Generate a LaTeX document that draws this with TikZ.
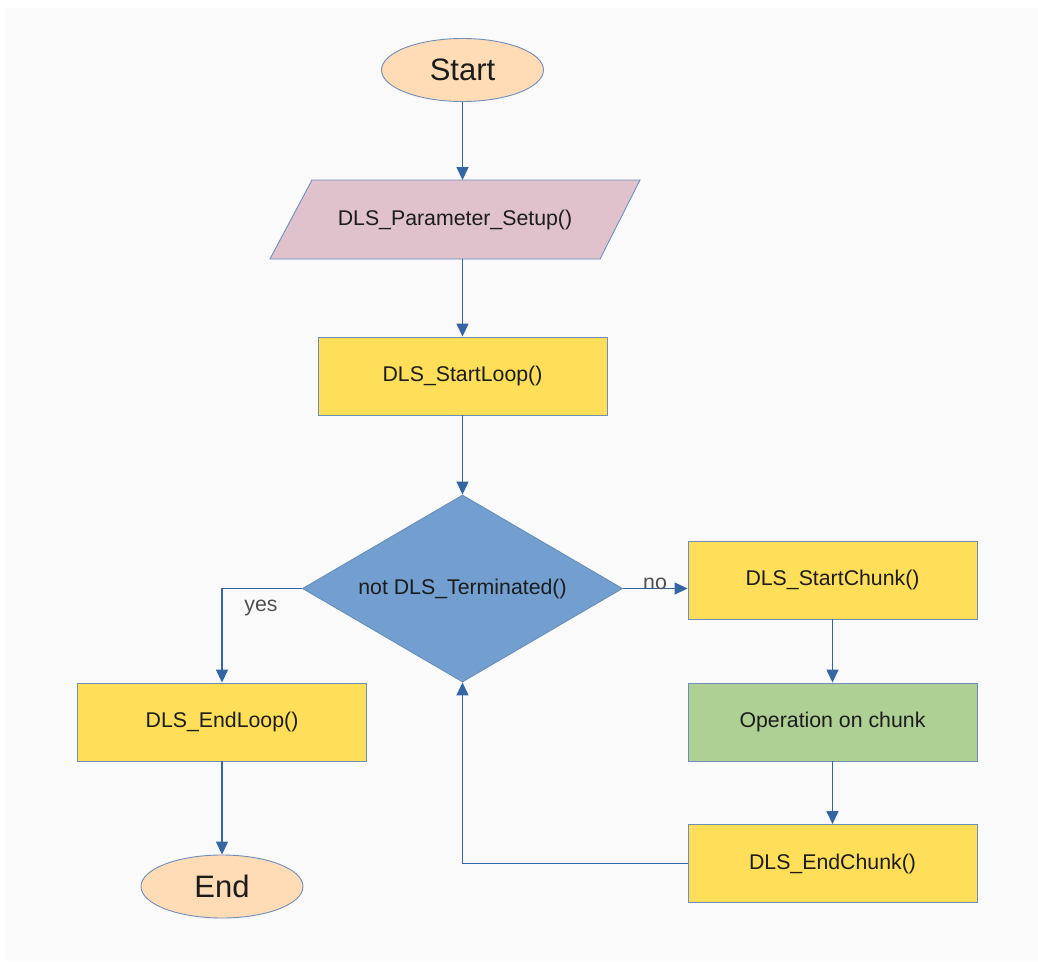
\documentclass[tikz,border=0pt]{standalone}
\usepackage{fontspec}
\setmainfont{Liberation Sans}
\usetikzlibrary{shapes.geometric,arrows.meta}

\definecolor{peach}{HTML}{FFDBB6}
\definecolor{mauve}{HTML}{E0C2CD}
\definecolor{gold}{HTML}{FFDE59}
\definecolor{sage}{HTML}{AFD095}
\definecolor{skyblue}{HTML}{729FCF}
\definecolor{edge}{HTML}{6F8FBA}
\definecolor{flow}{HTML}{3465A4}
\definecolor{panel}{HTML}{FAFAFA}
\definecolor{ink}{HTML}{1C1C1C}
\definecolor{labelgray}{HTML}{505050}

\tikzset{
  terminal/.style={ellipse, draw=edge, line width=0.9pt, fill=peach,
    minimum width=162pt, minimum height=63pt, inner sep=0pt,
    font=\fontsize{31}{36}\selectfont, text=ink},
  stepbox/.style={rectangle, draw=edge, line width=0.9pt, fill=gold,
    minimum width=289pt, minimum height=78pt, inner sep=0pt,
    font=\fontsize{21.3}{25}\selectfont, text=ink},
  iobox/.style={draw=edge, line width=0.9pt, fill=mauve},
  plaintext/.style={inner sep=0pt, font=\fontsize{21.3}{25}\selectfont, text=ink},
  decision/.style={diamond, draw=skyblue!90!black, line width=0.9pt, fill=skyblue,
    shape aspect=1.71, minimum width=320pt, minimum height=187pt, inner sep=0pt,
    font=\fontsize{21.3}{25}\selectfont, text=ink},
  branch/.style={inner sep=0pt, font=\fontsize{21.3}{25}\selectfont, text=labelgray},
  conn/.style={draw=flow, line width=1.4pt,
    -{Triangle[length=13pt,width=12pt]}},
}

\begin{document}
\begin{tikzpicture}[x=1pt,y=-1pt]
  \useasboundingbox (0,0) rectangle (1038,961);
  \fill[white] (0,0) rectangle (1038,961);
  \fill[panel] (5,8) rectangle (1038,961);

  % start / setup / loop header
  \node[terminal] (start) at (462.5,70) {Start};

  \path[iobox] (270,259) -- (312,180) -- (640,180) -- (600,259) -- cycle;
  \coordinate (paramtop) at (462.5,180);
  \coordinate (parambot) at (462.5,259);
  \node[plaintext] (param) at (455,220) {DLS\_Parameter\_Setup()};

  \node[stepbox] (loop) at (462.5,376) {DLS\_StartLoop()};
  \node[decision] (dec) at (462.5,588.5) {not DLS\_Terminated()};

  % left branch
  \node[stepbox] (endloop) at (222,722) {DLS\_EndLoop()};
  \node[terminal] (end) at (222,886.5) {End};

  % right branch (loop body)
  \node[stepbox] (chunk) at (832.5,580) {DLS\_StartChunk()};
  \node[stepbox, fill=sage] (op) at (832.5,722) {Operation on chunk};
  \node[stepbox] (endchunk) at (832.5,863.5) {DLS\_EndChunk()};

  % connectors
  \draw[conn] (start) -- (paramtop);
  \draw[conn] (parambot) -- (loop);
  \draw[conn] (loop) -- (dec);
  \draw[conn] (dec.west) -| (endloop.north);
  \draw[conn] (endloop) -- (end);
  \draw[conn] (dec.east) -- (dec.east -| chunk.west);
  \draw[conn] (chunk) -- (op);
  \draw[conn] (op) -- (endchunk);
  \draw[conn] (endchunk.west) -| (dec.south);

  % branch labels
  \node[branch] (yes) at (261,608) {yes};
  \node[branch] (no) at (655,584) {no};
\end{tikzpicture}
\end{document}
